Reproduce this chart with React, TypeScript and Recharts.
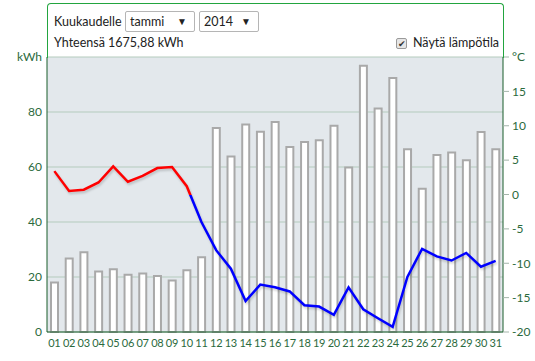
import { ComposedChart, Bar, Line, XAxis, YAxis, CartesianGrid } from 'recharts'

const days = [
  '01', '02', '03', '04', '05', '06', '07', '08', '09', '10',
  '11', '12', '13', '14', '15', '16', '17', '18', '19', '20',
  '21', '22', '23', '24', '25', '26', '27', '28', '29', '30', '31',
]
const kwh = [
  18, 26.7, 29, 22, 22.8, 20.8, 21.3, 20.4, 18.7, 22.5,
  27.2, 74.2, 63.8, 75.5, 72.8, 76.4, 67.3, 69.1, 69.7, 75,
  59.8, 96.8, 81.3, 92.4, 66.5, 52.1, 64.4, 65.3, 62.5, 72.7, 66.5,
]
const temps = [
  3.4, 0.5, 0.7, 1.75, 4.1, 1.85, 2.7, 3.85, 4.0, 1.2,
  -4.0, -8.1, -10.8, -15.5, -13.1, -13.5, -14.1, -16.1, -16.3, -17.5,
  -13.5, -16.7, -18, -19.25, -12.0, -7.9, -9.0, -9.6, -8.5, -10.5, -9.65,
]
const kwhTicks = [0, 20, 40, 60, 80, 100]
const tempTicks = [-20, -15, -10, -5, 0, 5, 10, 15, 20]

const data = days.map((day, i) => ({ day, kwh: kwh[i], temp: temps[i] }))

// switch line colour where the temperature crosses 0
const tMax = Math.max(...temps)
const tMin = Math.min(...temps)
const zeroAt = tMax / (tMax - tMin)

const font = "Lato, 'Open Sans', sans-serif"
const green = '#2b6a3d'
const axisGreen = '#185c2b'
const tickStyle = { fill: green, fontSize: 12, fontFamily: font }

const selectBox = (left: number, width: number, text: string) => (
  <div
    style={{
      position: 'absolute', left, top: 11, width, height: 21, boxSizing: 'border-box',
      border: '1px solid #b5b5b5', borderRadius: 2, background: '#fff',
      fontSize: 12.5, color: '#222', lineHeight: '19px', paddingLeft: 4,
    }}
  >
    {text}
    <span style={{ position: 'absolute', right: 7, top: 0, fontSize: 10 }}>▼</span>
  </div>
)

export default function App() {
  return (
    <div style={{ position: 'absolute', left: 0, top: 0, width: 535, height: 361, background: '#fff', fontFamily: font }}>
      <ComposedChart
        width={535}
        height={361}
        data={data}
        margin={{ top: 57, right: 0, left: 0, bottom: 0 }}
      >
        <defs>
          <linearGradient id="tempGrad" x1="0" y1="0" x2="0" y2="1">
            <stop offset={zeroAt} stopColor="#ff0000" />
            <stop offset={zeroAt} stopColor="#0000ff" />
          </linearGradient>
        </defs>
        <CartesianGrid yAxisId="left" vertical={false} stroke="#b4cbbd" fill="#e3e8ec" />
        <XAxis
          dataKey="day"
          interval={0}
          height={29}
          tickLine={false}
          tickSize={0}
          tickMargin={7}
          axisLine={{ stroke: axisGreen }}
          tick={{ ...tickStyle, fontSize: 11, letterSpacing: -0.2 }}
        />
        <YAxis
          yAxisId="left"
          width={47}
          domain={[0, 100]}
          ticks={kwhTicks}
          tickFormatter={(v) => (v === 100 ? 'kWh' : String(v))}
          tickLine={false}
          tickSize={0}
          tickMargin={5}
          axisLine={{ stroke: axisGreen }}
          tick={tickStyle}
        />
        <YAxis
          yAxisId="right"
          orientation="right"
          width={32}
          domain={[-20, 20]}
          ticks={tempTicks}
          tickFormatter={(v) => (v === 20 ? '°C' : String(v))}
          tickLine={{ stroke: '#a3b5aa' }}
          tickSize={6}
          tickMargin={3}
          axisLine={{ stroke: axisGreen }}
          tick={tickStyle}
        />
        <Bar
          yAxisId="left"
          dataKey="kwh"
          barSize={7}
          fill="#ffffff"
          stroke="#a9a9a9"
          strokeWidth={2}
          isAnimationActive={false}
        />
        <Line
          yAxisId="right"
          dataKey="temp"
          type="linear"
          stroke="url(#tempGrad)"
          strokeWidth={2.5}
          dot={false}
          activeDot={false}
          style={{ filter: 'drop-shadow(1px 2px 1px rgba(0,0,0,0.18))' }}
          isAnimationActive={false}
        />
      </ComposedChart>

      <div
        style={{
          position: 'absolute', left: 47, top: 3, width: 457, height: 55, boxSizing: 'border-box',
          border: '1px solid #22a53f', borderBottom: 'none', borderRadius: '4px 4px 0 0',
          pointerEvents: 'none',
        }}
      />
      <div style={{ position: 'absolute', left: 54, top: 14, fontSize: 12.5, color: '#222' }}>Kuukaudelle</div>
      {selectBox(125, 70, 'tammi')}
      {selectBox(199, 60, '2014')}
      <div style={{ position: 'absolute', left: 54, top: 35, fontSize: 12.5, color: '#222' }}>Yhteensä 1675,88 kWh</div>
      <div
        style={{
          position: 'absolute', left: 396, top: 38, width: 11, height: 11, boxSizing: 'border-box',
          border: '1px solid #9a9a9a', borderRadius: 2, background: '#e6e6e6',
          fontSize: 9, lineHeight: '9px', textAlign: 'center', color: '#333',
        }}
      >
        ✔
      </div>
      <div style={{ position: 'absolute', left: 413, top: 35, fontSize: 12.5, color: '#222' }}>Näytä lämpötila</div>
    </div>
  )
}
